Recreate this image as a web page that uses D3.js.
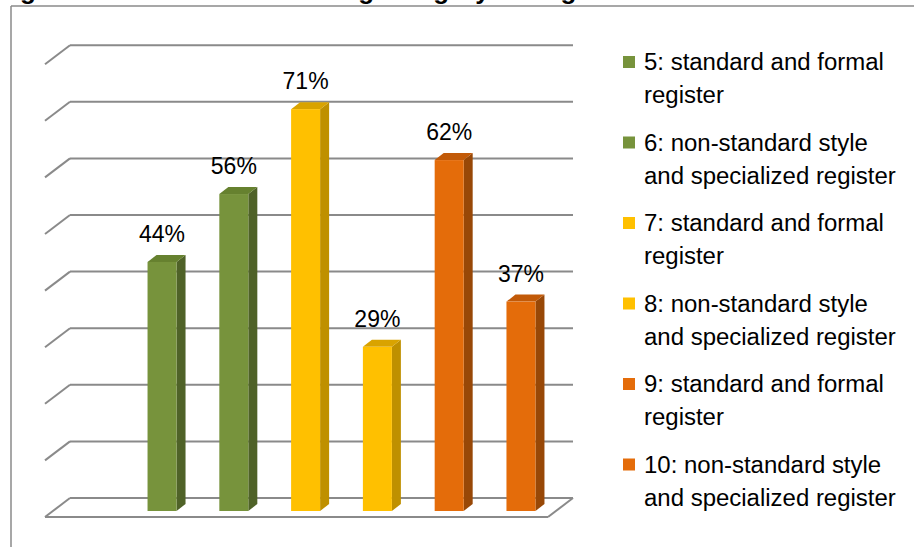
<!DOCTYPE html>
<html>
<head>
<meta charset="utf-8">
<script src="https://cdn.jsdelivr.net/npm/d3@7"></script>
<style>
  html, body { margin: 0; padding: 0; background: #fff; overflow: hidden; }
  svg { display: block; }
</style>
</head>
<body>
<svg id="chart" width="914" height="547"></svg>
<script>
// ---- data ----
const categories = ["5", "6", "7", "8", "9", "10"];
const values = [44, 56, 71, 29, 62, 37];
const valueLabels = ["44%", "56%", "71%", "29%", "62%", "37%"];
const legendLines = [
  ["5: standard and formal", "register"],
  ["6: non-standard style", "and specialized register"],
  ["7: standard and formal", "register"],
  ["8: non-standard style", "and specialized register"],
  ["9: standard and formal", "register"],
  ["10: non-standard style", "and specialized register"]
];
const gridTicks = [0, 10, 20, 30, 40, 50, 60, 70, 80];
const titleText = "Figure 3.1: The students using category in English";

// ---- styles ----
const palette = {
  green: { front: "#77933C", side: "#4F6228", top: "#66812F" },
  yellow: { front: "#FFC000", side: "#BF9000", top: "#D9A300" },
  orange: { front: "#E46C0A", side: "#984807", top: "#C25A08" }
};
const barColors = ["green", "green", "yellow", "yellow", "orange", "orange"];
const font = "'Liberation Sans', Arial, sans-serif";

const svg = d3.select("#chart");

// chart frame
svg.append("line").attr("x1", 11).attr("y1", 6).attr("x2", 914).attr("y2", 6)
  .attr("stroke", "#8a8a8a").attr("stroke-width", 1.5);
svg.append("line").attr("x1", 11).attr("y1", 6).attr("x2", 11).attr("y2", 547)
  .attr("stroke", "#8a8a8a").attr("stroke-width", 1.5);

// title (cut off at the top, as in the reference)
svg.append("text").attr("x", -3).attr("y", -1)
  .attr("font-family", font).attr("font-weight", "bold").attr("font-size", 26)
  .attr("fill", "#000").text(titleText);

// scales (front plane of bars)
const x = d3.scaleBand().domain(categories).range([126, 557]).paddingInner(0.596).paddingOuter(0.3);
const y = d3.scaleLinear().domain([0, 80]).range([511, 58.2]);

// depth offsets
const depthX = 9, depthY = -7;          // bar depth
const wallDX = 25, wallDY = -19;        // floor/side-wall depth
const wallFrontOffset = 6;              // front edge below bar plane
const gridColor = "#8a8a8a";

const grid = svg.append("g");
gridTicks.forEach(t => {
  const yb = y(t) + wallFrontOffset + wallDY; // back wall y
  const yf = y(t) + wallFrontOffset;           // front (left wall) y
  grid.append("line").attr("x1", 45 + wallDX).attr("x2", 573).attr("y1", yb).attr("y2", yb)
    .attr("stroke", gridColor).attr("stroke-width", 2);
  grid.append("line").attr("x1", 45).attr("x2", 45 + wallDX).attr("y1", yf).attr("y2", yb)
    .attr("stroke", gridColor).attr("stroke-width", 2);
  if (t === 0) {
    grid.append("line").attr("x1", 45).attr("x2", 573 - wallDX).attr("y1", yf).attr("y2", yf)
      .attr("stroke", gridColor).attr("stroke-width", 2);
    grid.append("line").attr("x1", 573 - wallDX).attr("x2", 573).attr("y1", yf).attr("y2", yb)
      .attr("stroke", gridColor).attr("stroke-width", 2);
  }
});

// bars
const bw = x.bandwidth();
const bars = svg.append("g");
categories.forEach((c, i) => {
  const x0 = x(c), x1 = x0 + bw;
  const yt = y(values[i]), y0 = y(0);
  const col = palette[barColors[i]];
  bars.append("polygon")
    .attr("points", [[x1, yt], [x1 + depthX, yt + depthY], [x1 + depthX, y0 + depthY], [x1, y0]].map(p => p.join(",")).join(" "))
    .attr("fill", col.side);
  bars.append("polygon")
    .attr("points", [[x0, yt], [x0 + depthX, yt + depthY], [x1 + depthX, yt + depthY], [x1, yt]].map(p => p.join(",")).join(" "))
    .attr("fill", col.top);
  bars.append("rect").attr("x", x0).attr("y", yt).attr("width", bw).attr("height", y0 - yt)
    .attr("fill", col.front);
  svg.append("text").attr("x", x0 + bw / 2).attr("y", yt - 20)
    .attr("text-anchor", "middle").attr("font-family", font).attr("font-size", 23)
    .attr("fill", "#000").text(valueLabels[i]);
});

// legend
const legend = svg.append("g");
let legendFont = 23;
const probe = legend.append("text").attr("font-family", font).attr("font-size", 20).text("and specialized register");
const w20 = probe.node().getComputedTextLength();
probe.remove();
if (w20 > 0) legendFont = 20 * 252 / w20;

legendLines.forEach((lines, i) => {
  const cy = 62 + i * 80.5;
  legend.append("rect").attr("x", 623).attr("y", cy - 6).attr("width", 12).attr("height", 12)
    .attr("fill", palette[barColors[i]].front);
  lines.forEach((ln, j) => {
    legend.append("text").attr("x", 644).attr("y", cy + 8 + j * 33)
      .attr("font-family", font).attr("font-size", legendFont).attr("fill", "#000").text(ln);
  });
});
</script>
</body>
</html>
